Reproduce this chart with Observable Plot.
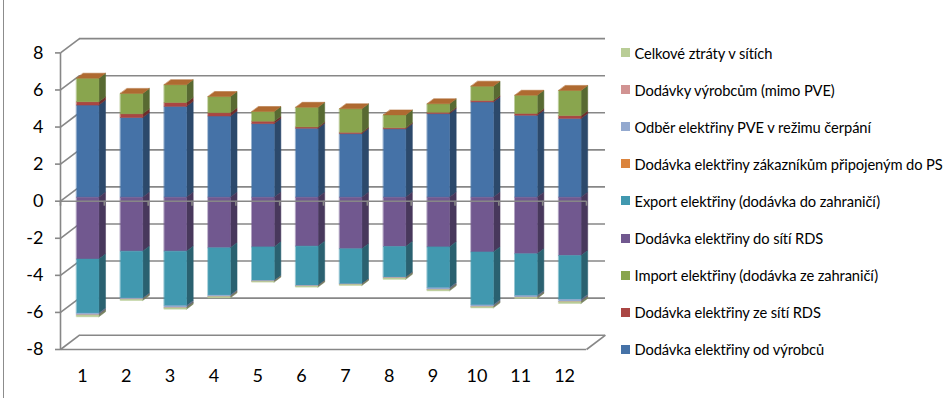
<!DOCTYPE html>
<html>
<head>
<meta charset="utf-8">
<script src="https://cdn.jsdelivr.net/npm/d3@7"></script>
<script src="https://cdn.jsdelivr.net/npm/@observablehq/plot@0.6"></script>
<style>
  body { margin: 0; background: #fff; }
  #chart { position: relative; width: 944px; height: 398px; font-family: Lato, sans-serif; overflow: hidden; }
  #frame { position: absolute; left: 3px; top: 0; bottom: 0; border-left: 1.5px solid #8c8c8c; }
  #plot { position: absolute; left: 0; top: 0; }
  #legend { position: absolute; left: 621px; top: 34.2px; width: 323px; }
  .row { height: 37.07px; display: flex; align-items: center; font-size: 14.7px; letter-spacing: -0.1px; white-space: nowrap; color: #000; }
  .sw { width: 9px; height: 9px; margin-right: 4.5px; flex: none; }
</style>
</head>
<body>
<div id="chart"><div id="frame"></div><div id="plot"></div><div id="legend"></div></div>
<script>
// Months (categories)
const months = [1, 2, 3, 4, 5, 6, 7, 8, 9, 10, 11, 12];

// Monthly balance of the transmission system (TWh); supplies positive, offtakes negative
const odVyrobcu       = [4.97, 4.30, 4.90, 4.38, 3.97, 3.72, 3.43, 3.69, 4.51, 5.14, 4.42, 4.25];
const zeSitiRDS       = [0.18, 0.20, 0.21, 0.18, 0.13, 0.07, 0.07, 0.06, 0.07, 0.08, 0.10, 0.15];
const importElektriny = [1.27, 1.10, 0.96, 0.87, 0.52, 1.06, 1.27, 0.69, 0.46, 0.77, 0.98, 1.36];
const doSitiRDS       = [-3.34, -2.91, -2.91, -2.73, -2.68, -2.64, -2.78, -2.66, -2.68, -2.95, -3.05, -3.15];
const exportElektriny = [-2.92, -2.54, -2.95, -2.56, -1.82, -2.12, -1.90, -1.66, -2.21, -2.86, -2.26, -2.37];
const zakaznikumPS    = [0, 0, 0, 0, 0, 0, 0, 0, 0, 0, 0, 0];
const pveCerpani      = [-0.09, -0.05, -0.10, -0.07, -0.03, -0.03, -0.02, -0.03, -0.09, -0.09, -0.09, -0.11];
const dodavkyVyrobcum = [-0.01, -0.01, -0.01, -0.01, -0.01, -0.01, -0.01, -0.01, -0.01, -0.01, -0.01, -0.01];
const ztraty          = [-0.09, -0.06, -0.07, -0.06, -0.04, -0.05, -0.05, -0.07, -0.06, -0.06, -0.05, -0.09];

const yTicks = [-8, -6, -4, -2, 0, 2, 4, 6, 8];

// Series in stacking order
const series = [
  {name: "Dodávka elektřiny od výrobců", values: odVyrobcu, color: "#4572A7"},
  {name: "Dodávka elektřiny ze sítí RDS", values: zeSitiRDS, color: "#AA4643"},
  {name: "Import elektřiny (dodávka ze zahraničí)", values: importElektriny, color: "#89A54E"},
  {name: "Dodávka elektřiny do sítí RDS", values: doSitiRDS, color: "#71588F"},
  {name: "Export elektřiny (dodávka do zahraničí)", values: exportElektriny, color: "#4198AF"},
  {name: "Dodávka elektřiny zákazníkům připojeným do PS", values: zakaznikumPS, color: "#DB843D"},
  {name: "Odběr elektřiny PVE v režimu čerpání", values: pveCerpani, color: "#93A9CF"},
  {name: "Dodávky výrobcům (mimo PVE)", values: dodavkyVyrobcum, color: "#D19392"},
  {name: "Celkové ztráty v sítích", values: ztraty, color: "#B9CD96"}
];

// 3D box layout: the wall depth expressed in scale units
const X0 = 0.5, X1 = 12.5;                // floor extent along x
const PX_PER_X = (586 - 60) / 12;         // pixels per category
const PX_PER_Y = (349 - 52.4) / 16;       // pixels per unit of value
const DEPTH_X = 19 / PX_PER_X;            // back wall offset to the right
const DEPTH_Y = 14.3 / PX_PER_Y;          // back wall offset upwards
const BAR_FRONT = 0.28, BAR_BACK = 0.63;  // bar depth within the box
const HALF_W = 0.2545;                    // half bar width (categories)

const shade = (c, k) => { const r = d3.rgb(c); return d3.rgb(r.r * k, r.g * k, r.b * k).formatHex(); };
const proj = (x, y, depth) => [x + depth * DEPTH_X, y + depth * DEPTH_Y];

// Build the faces of each stacked 3D column
const faces = [];
let fid = 0;
function addFace(points, fill) {
  const id = fid++;
  for (const [x, y] of points) faces.push({id, x, y, fill});
}
months.forEach((m, i) => {
  let pos = 0, neg = 0, topColor = null;
  const segs = [];
  series.forEach((s) => {
    const v = s.values[i];
    let lo, hi;
    if (v >= 0) { lo = pos; hi = pos + v; pos = hi; topColor = s.color; }
    else { hi = neg; lo = neg + v; neg = lo; }
    segs.push({lo, hi, v, color: s.color});
  });
  const xl = m - HALF_W, xr = m + HALF_W;
  for (const g of segs) {
    if (g.v === 0) continue;
    // side face
    addFace([proj(xr, g.lo, BAR_FRONT), proj(xr, g.lo, BAR_BACK), proj(xr, g.hi, BAR_BACK), proj(xr, g.hi, BAR_FRONT)], shade(g.color, 0.64));
    // front face
    addFace([proj(xl, g.lo, BAR_FRONT), proj(xr, g.lo, BAR_FRONT), proj(xr, g.hi, BAR_FRONT), proj(xl, g.hi, BAR_FRONT)], g.color);
  }
  // top face of the positive stack
  addFace([proj(xl, pos, BAR_FRONT), proj(xr, pos, BAR_FRONT), proj(xr, pos, BAR_BACK), proj(xl, pos, BAR_BACK)], shade(topColor, 0.8));
});

const GRID = "#878787";
const boundaries = d3.range(X0, X1 + 0.01, 1);

const chart = Plot.plot({
  width: 612,
  height: 398,
  x: {domain: [X0, X1], range: [60, 586], axis: null},
  y: {domain: [-8, 8 + DEPTH_Y], range: [349, 349 - (16 + DEPTH_Y) * PX_PER_Y], axis: null},
  color: {type: "identity"},
  style: {fontFamily: "Lato, sans-serif", background: "transparent", overflow: "visible"},
  marks: [
    // back wall gridlines
    Plot.ruleY(yTicks, {y: (d) => d + DEPTH_Y, x1: X0 + DEPTH_X, x2: X1 + DEPTH_X, stroke: GRID, strokeWidth: 1.6}),
    // side wall gridlines
    Plot.link(yTicks, {x1: X0, y1: (d) => d, x2: X0 + DEPTH_X, y2: (d) => d + DEPTH_Y, stroke: GRID, strokeWidth: 1.6}),
    // floor edges
    Plot.link([-8], {x1: X1, y1: (d) => d, x2: X1 + DEPTH_X, y2: (d) => d + DEPTH_Y, stroke: GRID, strokeWidth: 1.6}),
    Plot.ruleY([-8], {x1: X0, x2: X1, stroke: GRID, strokeWidth: 1.6}),
    // value axis
    Plot.ruleX([X0], {y1: -8, y2: 8, stroke: GRID, strokeWidth: 1.6}),
    Plot.ruleY(yTicks, {y: (d) => d, x1: X0 - 5 / PX_PER_X, x2: X0, stroke: GRID, strokeWidth: 1.6}),
    Plot.text(yTicks, {x: X0, y: (d) => d, text: (d) => String(d), textAnchor: "end", dx: -17, fontSize: 18, fill: "#000"}),
    // columns
    Plot.line(faces, {x: "x", y: "y", z: "id", fill: "fill", stroke: "fill", strokeWidth: 0.5, curve: "linear-closed"}),
    // category axis at zero
    Plot.ruleY([0], {x1: X0, x2: X1, stroke: GRID, strokeWidth: 1.6}),
    Plot.ruleX(boundaries, {x: (d) => d, y1: 0, y2: -5 / PX_PER_Y, stroke: GRID, strokeWidth: 1.6}),
    Plot.text(months, {x: (d) => d, y: -8, dy: 27, text: (d) => String(d), fontSize: 18, fill: "#000"})
  ]
});
document.getElementById("plot").appendChild(chart);

// Legend, listed in reverse stacking order
const legend = document.getElementById("legend");
for (const s of series.slice().reverse()) {
  const row = document.createElement("div");
  row.className = "row";
  const sw = document.createElement("span");
  sw.className = "sw";
  sw.style.background = s.color;
  const label = document.createElement("span");
  label.textContent = s.name;
  row.append(sw, label);
  legend.appendChild(row);
}
</script>
</body>
</html>
